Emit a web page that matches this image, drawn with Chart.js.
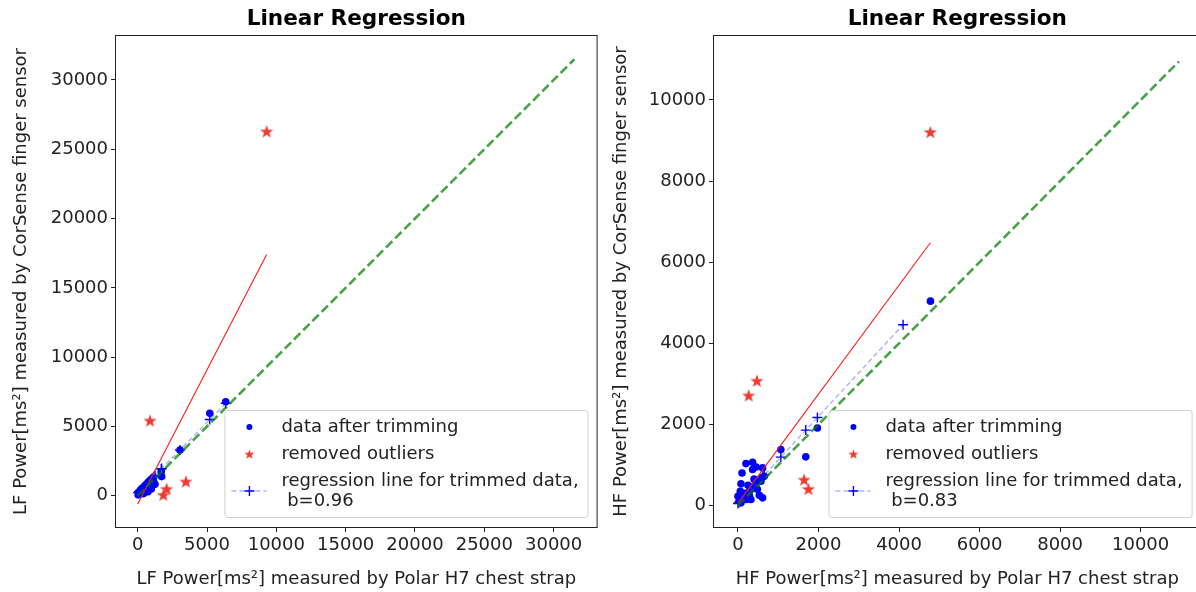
<!DOCTYPE html>
<html lang="en">
<head>
<meta charset="UTF-8">
<title>Linear Regression - LF / HF Power</title>
<script src="https://cdn.jsdelivr.net/npm/chart.js"></script>
<style>
    html, body {
        margin: 0;
        background: #fff;
        overflow: hidden;
    }
    #wrap {
        position: relative;
        width: 1210px;
        height: 592px;
    }
    #lfChart { position: absolute; left: 0; top: 0; }
    #hfChart { position: absolute; left: 600px; top: 0; }
</style>
</head>
<body>
<div id="wrap">
    <canvas id="lfChart" width="603" height="592"></canvas>
    <canvas id="hfChart" width="607" height="592"></canvas>
</div>
<script>
// LF panel (left)
const lfTicks = [0, 5000, 10000, 15000, 20000, 25000, 30000];
const lfTrimX = [30, 90, 150, 200, 260, 310, 360, 420, 470, 520, 580, 630, 690, 740, 800, 860, 920, 980, 1050, 1150, 1250, 1700, 1730, 3050, 5200, 6350];
const lfTrimY = [60, 250, 100, 380, 200, 520, 300, 150, 450, 650, 380, 760, 520, 280, 640, 880, 700, 480, 860, 1000, 820, 1750, 1380, 3300, 5950, 6780];
const lfRegX  = [30, 90, 150, 200, 260, 310, 360, 420, 470, 520, 580, 630, 690, 740, 800, 860, 920, 980, 1050, 1150, 1250, 1700, 1730, 3050, 5200, 6350];
const lfRegY  = [221, 282, 343, 394, 455, 506, 557, 618, 669, 720, 782, 833, 894, 945, 1006, 1067, 1128, 1190, 1261, 1363, 1465, 1924, 1955, 3301, 5494, 6667];
const lfOutX = [890, 1850, 2090, 3480, 9300];
const lfOutY = [5430, 70, 500, 1030, 26300];
const lfFitX = [0, 9300];
const lfFitY = [-600, 17400];
const lfIdX = [0, 31500];
const lfIdY = [0, 31500];

// HF panel (right)
const hfTicks = [0, 2000, 4000, 6000, 8000, 10000];
const hfTrimX = [0, 30, 57, 74, 74, 100, 150, 198, 200, 250, 280, 322, 363, 363, 400, 450, 480, 530, 569, 611, 611, 651, 1064, 1683, 1972, 4780];
const hfTrimY = [230, 120, 353, 66, 534, 800, 300, 1034, 150, 500, 250, 148, 887, 1067, 650, 950, 400, 250, 599, 189, 928, 722, 1379, 1200, 1913, 5040];
const hfRegX  = [0, 30, 57, 74, 100, 150, 198, 250, 280, 322, 363, 400, 450, 480, 530, 569, 611, 651, 1064, 1683, 1972, 4100];
const hfRegY  = [50, 82, 111, 130, 158, 211, 263, 319, 351, 396, 440, 480, 534, 566, 620, 662, 707, 750, 1194, 1859, 2170, 4458];
const hfOutX = [264, 470, 1642, 1749, 4777];
const hfOutY = [2717, 3079, 640, 411, 9212];
const hfFitX = [0, 4777];
const hfFitY = [60, 6480];
const hfIdX = [0, 10950];
const hfIdY = [0, 10950];

const FONT = '"DejaVu Sans", Arial, sans-serif';
const TXT = '#222';
const RED = '#ee3b30';
const BLUE = '#0000ff';

function pts(xs, ys) {
    return xs.map((x, i) => ({ x: x, y: ys[i] }));
}

// filled 5-point star used as point style
function makeStar(R, color) {
    const c = document.createElement('canvas');
    const s = Math.ceil(R * 2 + 2);
    c.width = s; c.height = s;
    const g = c.getContext('2d');
    g.translate(s / 2, s / 2 + R * 0.1);
    g.beginPath();
    for (let i = 0; i < 10; i++) {
        const rad = i % 2 ? R * 0.4 : R;
        const ang = -Math.PI / 2 + i * Math.PI / 5;
        g.lineTo(rad * Math.cos(ang), rad * Math.sin(ang));
    }
    g.closePath();
    g.fillStyle = color;
    g.fill();
    return c;
}
const starImg = makeStar(7, RED);

// frame, title and boxed legend inside the axes
const panelDecor = {
    id: 'panelDecor',
    afterDraw(chart, args, opts) {
        const ctx = chart.ctx, a = chart.chartArea;
        ctx.save();
        ctx.strokeStyle = TXT;
        ctx.lineWidth = 1;
        ctx.strokeRect(a.left - 0.5, a.top - 0.5, a.right - a.left + 1, a.bottom - a.top + 1);

        ctx.fillStyle = '#000';
        ctx.font = 'bold 21.6px ' + FONT;
        ctx.textAlign = 'center';
        ctx.textBaseline = 'middle';
        ctx.fillText(opts.title, (a.left + a.right) / 2, 19);

        // legend, in the order of legendRank
        const items = chart.data.datasets.filter(d => d.label)
            .sort((p, q) => p.legendRank - q.legendRank);
        ctx.font = '18px ' + FONT;
        let maxW = 0, h = 6;
        items.forEach(d => {
            const lines = [].concat(d.label);
            lines.forEach(t => { maxW = Math.max(maxW, ctx.measureText(t).width); });
            h += lines.length * 20 + 7;
        });
        const w = 57 + maxW + 9;
        const bx = a.right - 9 - w, by = a.bottom - 10 - h;
        ctx.beginPath();
        ctx.roundRect(bx + 0.5, by + 0.5, w, h, 3);
        ctx.fillStyle = 'rgba(255,255,255,0.85)';
        ctx.fill();
        ctx.strokeStyle = '#d0d0d0';
        ctx.stroke();

        let y = by + 7;
        items.forEach(d => {
            const lines = [].concat(d.label);
            const cy = y + lines.length * 10;
            const mx = bx + 25;
            if (d.legendKind === 'dot') {
                ctx.beginPath();
                ctx.arc(mx, cy, 3, 0, Math.PI * 2);
                ctx.fillStyle = BLUE;
                ctx.fill();
            } else if (d.legendKind === 'star') {
                ctx.drawImage(starImg, mx - 6, cy - 6, 12, 12);
            } else {
                ctx.setLineDash([5, 3]);
                ctx.strokeStyle = 'rgba(0,0,255,0.3)';
                ctx.lineWidth = 1.5;
                ctx.beginPath();
                ctx.moveTo(bx + 7, cy); ctx.lineTo(bx + 42, cy);
                ctx.stroke();
                ctx.setLineDash([]);
                ctx.strokeStyle = BLUE;
                ctx.lineWidth = 1.4;
                ctx.beginPath();
                ctx.moveTo(mx - 5, cy); ctx.lineTo(mx + 5, cy);
                ctx.moveTo(mx, cy - 5); ctx.lineTo(mx, cy + 5);
                ctx.stroke();
            }
            ctx.fillStyle = TXT;
            ctx.textAlign = 'left';
            ctx.textBaseline = 'middle';
            lines.forEach((t, i) => ctx.fillText(t, bx + 57, y + 10 + i * 20));
            y += lines.length * 20 + 7;
        });
        ctx.restore();
    }
};

function axis(min, max, ticks, title, isX, fitSize) {
    return {
        type: 'linear',
        min: min,
        max: max,
        afterBuildTicks: s => { s.ticks = ticks.map(v => ({ value: v })); },
        afterFit: s => { if (isX) s.height = fitSize; else s.width = fitSize; },
        border: { display: false },
        grid: { drawOnChartArea: false, drawTicks: true, tickLength: 5, color: TXT, lineWidth: 1 },
        ticks: {
            autoSkip: false,
            maxRotation: 0,
            color: TXT,
            padding: 3,
            font: { family: FONT, size: 18 },
            callback: v => String(v)
        },
        title: {
            display: true,
            text: title,
            color: TXT,
            font: { family: FONT, size: 18 },
            padding: isX ? { top: 0, bottom: 2 } : { top: 11, bottom: 0 }
        }
    };
}

function makePanel(id, d) {
    new Chart(document.getElementById(id), {
        type: 'scatter',
        data: {
            datasets: [
                {
                    data: pts(d.idX, d.idY), showLine: true, pointRadius: 0,
                    borderColor: 'rgba(0,128,0,0.72)', borderWidth: 2.6, borderDash: [9, 4], order: 0
                },
                {
                    data: pts(d.fitX, d.fitY), showLine: true, pointRadius: 0,
                    borderColor: '#ff1a1a', borderWidth: 1.1, order: 1
                },
                {
                    label: ['regression line for trimmed data,', ' b=' + d.b], legendKind: 'reg', legendRank: 2,
                    data: pts(d.regX, d.regY), showLine: true,
                    borderColor: 'rgba(0,0,255,0.3)', borderWidth: 1.5, borderDash: [5, 3],
                    pointStyle: 'cross', pointRadius: 5, pointBorderColor: BLUE, pointBorderWidth: 1.4,
                    order: 2
                },
                {
                    label: 'removed outliers', legendKind: 'star', legendRank: 1,
                    data: pts(d.outX, d.outY), pointStyle: starImg, order: 3
                },
                {
                    label: 'data after trimming', legendKind: 'dot', legendRank: 0,
                    data: pts(d.trimX, d.trimY), pointRadius: 3.8,
                    backgroundColor: BLUE, borderColor: BLUE, borderWidth: 0, order: 4
                }
            ]
        },
        options: {
            responsive: false,
            devicePixelRatio: 1,
            animation: false,
            events: [],
            layout: { padding: { top: 36, right: 0, left: 0, bottom: 0 } },
            plugins: {
                legend: { display: false },
                tooltip: { enabled: false },
                panelDecor: { title: 'Linear Regression' }
            },
            scales: {
                x: axis(d.xMin, d.xMax, d.ticks, d.xTitle, true, 65),
                y: axis(d.yMin, d.yMax, d.ticks, d.yTitle, false, d.yWidth)
            }
        },
        plugins: [panelDecor]
    });
}

makePanel('lfChart', {
    trimX: lfTrimX, trimY: lfTrimY, regX: lfRegX, regY: lfRegY, outX: lfOutX, outY: lfOutY,
    fitX: lfFitX, fitY: lfFitY, idX: lfIdX, idY: lfIdY, b: '0.96', ticks: lfTicks,
    xMin: -1564, xMax: 33098, yMin: -2259, yMax: 33175,
    xTitle: 'LF Power[ms²] measured by Polar H7 chest strap',
    yTitle: 'LF Power[ms²] measured by CorSense finger sensor',
    yWidth: 116
});

// the right axes run a few pixels past the window edge
makePanel('hfChart', {
    trimX: hfTrimX, trimY: hfTrimY, regX: hfRegX, regY: hfRegY, outX: hfOutX, outY: hfOutY,
    fitX: hfFitX, fitY: hfFitY, idX: hfIdX, idY: hfIdY, b: '0.83', ticks: hfTicks,
    xMin: -596, xMax: 11489, yMin: -530, yMax: 11578,
    xTitle: 'HF Power[ms²] measured by Polar H7 chest strap',
    yTitle: 'HF Power[ms²] measured by CorSense finger sensor',
    yWidth: 114
});
</script>
</body>
</html>
